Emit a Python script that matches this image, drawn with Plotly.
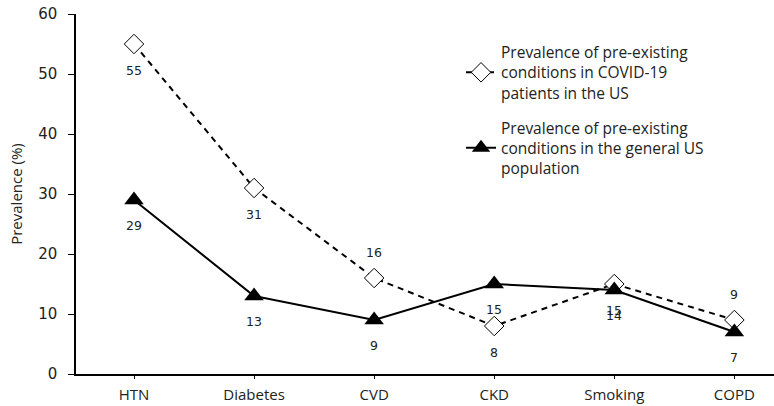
import plotly.graph_objects as go

categories = ["HTN", "Diabetes", "CVD", "CKD", "Smoking", "COPD"]
covid_values = [55, 31, 16, 8, 15, 9]
general_values = [29, 13, 9, 15, 14, 7]
covid_label_pos = ["below", "below", "above", "below", "below", "above"]
general_label_pos = ["below", "below", "below", "below", "below", "below"]
y_ticks = [0, 10, 20, 30, 40, 50, 60]

covid_name = "Prevalence of pre-existing<br>conditions in COVID-19<br>patients in the US"
general_name = "Prevalence of pre-existing<br>conditions in the general US<br>population"

fig = go.Figure()
fig.add_trace(go.Scatter(
    x=categories, y=covid_values, mode="lines+markers", name=covid_name,
    line=dict(color="black", width=2, dash="6px,5px"),
    marker=dict(symbol="diamond", size=15, color="white", line=dict(color="black", width=1)),
    legendgroup="a",
))
fig.add_trace(go.Scatter(
    x=categories, y=general_values, mode="lines+markers", name=general_name,
    line=dict(color="black", width=2),
    marker=dict(symbol="triangle-up", size=17, color="black"),
    legendgroup="b",
))

for cat, v, pos in zip(categories, covid_values, covid_label_pos):
    fig.add_annotation(x=cat, y=v, text=str(v), showarrow=False,
                       yshift=(-26 if pos == "below" else 26),
                       font=dict(family="DejaVu Sans", size=12.5, color="#222"))
for cat, v, pos in zip(categories, general_values, general_label_pos):
    fig.add_annotation(x=cat, y=v, text=str(v), showarrow=False,
                       yshift=(-25 if pos == "below" else 25),
                       font=dict(family="DejaVu Sans", size=12.5, color="#222"))

fig.update_layout(
    width=774, height=406,
    margin=dict(l=76, r=0, t=14, b=32),
    paper_bgcolor="white", plot_bgcolor="white",
    font=dict(family="Open Sans", size=15, color="#222"),
    showlegend=True,
    legend=dict(x=0.5516, y=0.94, xanchor="left", yanchor="top",
                font=dict(family="Open Sans", size=15.5, color="#222"),
                tracegroupgap=12, bgcolor="rgba(0,0,0,0)"),
    xaxis=dict(range=[-0.483, 5.33], showline=True, linecolor="black", linewidth=1.5,
               ticks="outside", ticklen=3, tickcolor="black", showgrid=False,
               ticklabelstandoff=3,
               tickfont=dict(family="Open Sans", size=15), zeroline=False),
    yaxis=dict(range=[0, 60], tickvals=y_ticks, showline=True, linecolor="black", linewidth=1.5,
               ticks="outside", ticklen=6, tickcolor="black", showgrid=False, zeroline=False,
               ticklabelstandoff=8,
               tickfont=dict(family="DejaVu Sans", size=15),
               title=dict(text="Prevalence (%)", font=dict(family="Open Sans", size=15), standoff=12)),
)

fig.write_html("out.html", config={"displayModeBar": False},
               post_script="document.body.style.margin='0';document.body.style.overflow='hidden';")
